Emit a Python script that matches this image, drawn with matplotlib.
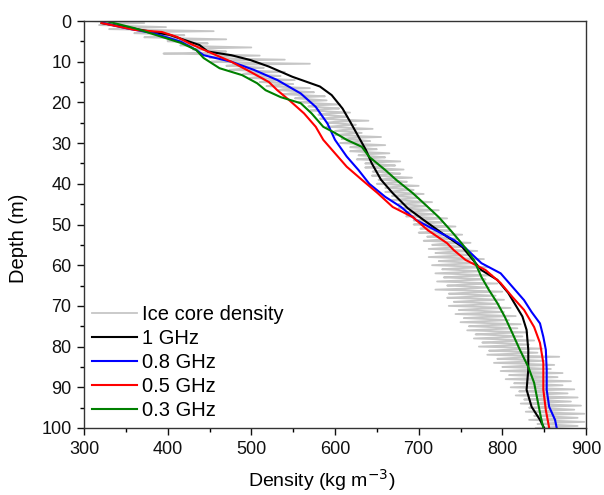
import matplotlib
matplotlib.use("Agg")
import matplotlib.pyplot as plt

plt.rcParams['font.family'] = ['Liberation Sans', 'DejaVu Sans']

# Ice core density: four readings per metre
# (left spike, centre, right spike, centre), 0.25 m apart
ice_quads = [
    (305, 340, 372, 330), (318, 360, 398, 345), (330, 395, 455, 370), (360, 395, 420, 385),
    (372, 415, 470, 400), (400, 430, 448, 420), (415, 450, 500, 440), (430, 455, 470, 448),
    (395, 465, 510, 458), (450, 478, 540, 470), (452, 490, 570, 480), (470, 495, 515, 488),
    (474, 505, 540, 498), (490, 515, 535, 508), (498, 525, 552, 518), (510, 535, 550, 528),
    (518, 545, 570, 538), (532, 555, 575, 548), (538, 565, 588, 558), (552, 572, 590, 566),
    (556, 582, 606, 575), (568, 588, 605, 582), (570, 595, 618, 590), (580, 600, 615, 595),
    (582, 608, 640, 600), (590, 610, 625, 605), (590, 616, 645, 610), (600, 618, 632, 614),
    (600, 625, 655, 618), (608, 628, 642, 622), (606, 632, 660, 626), (618, 636, 650, 630),
    (618, 642, 665, 636), (628, 646, 660, 640), (626, 652, 678, 646), (636, 656, 672, 650),
    (636, 660, 682, 654), (645, 664, 678, 658), (644, 668, 692, 662), (652, 672, 686, 666),
    (650, 676, 700, 670), (660, 680, 694, 674), (660, 684, 706, 678), (668, 688, 700, 682),
    (668, 692, 716, 686), (676, 696, 710, 690), (676, 700, 724, 694), (684, 704, 718, 698),
    (685, 709, 734, 703), (694, 713, 728, 707), (694, 718, 744, 712), (702, 722, 738, 716),
    (700, 726, 752, 720), (710, 730, 746, 724), (706, 734, 762, 728), (716, 738, 754, 732),
    (712, 741, 770, 735), (720, 744, 762, 738), (712, 747, 778, 741), (724, 749, 768, 743),
    (716, 752, 784, 746), (728, 754, 774, 748), (720, 756, 788, 750), (730, 758, 780, 752),
    (722, 760, 794, 754), (734, 762, 784, 756), (720, 765, 800, 758), (736, 767, 792, 761),
    (734, 770, 802, 764), (742, 772, 796, 766), (736, 775, 810, 769), (748, 778, 802, 772),
    (744, 781, 816, 775), (754, 784, 808, 778), (750, 788, 822, 782), (760, 792, 818, 786),
    (758, 796, 830, 790), (768, 800, 824, 794), (766, 804, 838, 798), (776, 808, 832, 802),
    (772, 813, 848, 807), (784, 817, 842, 811), (782, 821, 868, 815), (794, 825, 850, 819),
    (790, 829, 862, 823), (800, 833, 858, 827), (798, 837, 872, 831), (808, 840, 866, 834),
    (804, 843, 882, 837), (814, 846, 872, 840), (810, 849, 886, 843), (820, 852, 878, 846),
    (816, 855, 890, 849), (826, 857, 882, 851), (822, 860, 894, 854), (832, 862, 886, 856),
    (828, 864, 898, 858), (838, 866, 890, 860), (832, 867, 898, 861), (842, 868, 890, 862),
]
ice_last = 840
ice_density = [v for q in ice_quads for v in q] + [ice_last]
ice_depth = [i * 0.25 for i in range(len(ice_density))]

ghz1_density = [321, 402, 438, 448, 476, 499, 521, 549, 582, 596, 609, 618, 628,
                637, 644, 655, 669, 687, 706, 729, 752, 775, 794, 807, 817, 824,
                829, 831, 831, 829, 835, 845, 850]
ghz1_depth = [0.5, 3.4, 5.9, 7.5, 8.4, 9.6, 11.2, 13.7, 16.1, 18.2, 21.5, 24.7,
              28.4, 31.7, 35.0, 39.0, 42.3, 46.0, 48.9, 52.3, 55.5, 61.2, 63.6,
              66.8, 70.2, 72.6, 75.9, 80.8, 85.7, 90.6, 94.8, 98.0, 100.0]

ghz08_density = [323, 351, 383, 416, 434, 443, 476, 503, 531, 559, 577, 591, 600,
                 614, 628, 641, 660, 679, 697, 720, 742, 756, 775, 798, 812, 826,
                 835, 845, 849, 852, 853, 853, 856, 863, 865]
ghz08_depth = [0.5, 1.8, 3.0, 5.1, 7.1, 8.4, 10.0, 12.0, 14.5, 17.8, 21.1, 25.2,
               29.2, 33.3, 36.6, 40.0, 43.2, 45.7, 48.9, 51.4, 53.8, 55.8, 59.5,
               62.0, 65.3, 68.6, 71.5, 74.3, 77.6, 80.8, 85.7, 90.6, 94.8, 98.0,
               100.0]

ghz05_density = [321, 361, 393, 411, 425, 438, 458, 476, 499, 521, 531, 545, 563,
                 577, 586, 600, 614, 632, 651, 669, 693, 711, 734, 742, 756, 780,
                 798, 812, 826, 838, 845, 849, 849, 852, 856]
ghz05_depth = [0.5, 2.2, 2.7, 3.9, 5.4, 6.6, 8.4, 10.0, 12.5, 15.0, 17.0, 19.4,
               22.7, 26.0, 29.2, 32.5, 35.8, 39.0, 42.3, 45.7, 48.2, 51.4, 54.6,
               56.3, 58.7, 61.2, 64.4, 67.8, 71.0, 75.2, 79.1, 84.0, 90.6, 95.6,
               100.0]

ghz03_density = [326, 361, 393, 416, 434, 443, 462, 489, 507, 517, 535, 559, 572,
                 586, 600, 614, 632, 641, 660, 673, 693, 711, 724, 738, 748, 756,
                 766, 775, 784, 794, 803, 812, 821, 831, 838, 842, 846, 849]
ghz03_depth = [0.0, 1.8, 3.9, 5.4, 7.1, 9.1, 11.6, 13.3, 15.3, 17.0, 18.7, 20.2,
               22.7, 26.0, 27.5, 29.2, 30.9, 33.4, 36.6, 39.0, 42.3, 45.7, 48.2,
               51.4, 53.8, 55.8, 58.7, 62.9, 66.1, 69.3, 72.7, 76.7, 80.8, 85.0,
               88.9, 93.1, 97.3, 100.0]

x_ticks = [300, 400, 500, 600, 700, 800, 900]
x_minor = [350, 450, 550, 650, 750, 850]
y_ticks = [0, 10, 20, 30, 40, 50, 60, 70, 80, 90, 100]
y_minor = [5, 15, 25, 35, 45, 55, 65, 75, 85, 95]

fig = plt.figure(figsize=(6.04, 4.95), dpi=100)
ax = fig.add_axes([84 / 604, 1 - 428 / 495, 502 / 604, 407 / 495])

ax.plot(ice_density, ice_depth, color='#c6c6c6', lw=1.3, label='Ice core density')
ax.plot(ghz1_density, ghz1_depth, color='black', lw=1.5, label='1 GHz')
ax.plot(ghz08_density, ghz08_depth, color='#0000ff', lw=1.5, label='0.8 GHz')
ax.plot(ghz05_density, ghz05_depth, color='#ff0000', lw=1.5, label='0.5 GHz')
ax.plot(ghz03_density, ghz03_depth, color='#008000', lw=1.5, label='0.3 GHz')

ax.set_xlim(300, 900)
ax.set_ylim(100, 0)
ax.set_xticks(x_ticks)
ax.set_yticks(y_ticks)
ax.set_xticks(x_minor, minor=True)
ax.set_yticks(y_minor, minor=True)
ax.tick_params(axis='both', which='major', direction='out', length=5, width=1,
               labelsize=13, colors='#111111', pad=4)
ax.tick_params(axis='both', which='minor', direction='out', length=3, width=1)
ax.tick_params(top=False, right=False)
for s in ax.spines.values():
    s.set_color('#333333')
    s.set_linewidth(1.0)

ax.set_xlabel('Density (kg m$^{-3}$)', fontsize=14)
ax.set_ylabel('Depth (m)', fontsize=14.5)
ax.xaxis.set_label_coords((322 - 84) / 502, -(467 - 428) / 407)
ax.yaxis.set_label_coords(-(84 - 28) / 502, 1 - (238 - 21) / 407)

leg = ax.legend(loc='lower left', frameon=False, fontsize=14.5, handlelength=2.25,
                handletextpad=0.25, labelspacing=0.25, borderaxespad=0.2,
                borderpad=0.2, bbox_to_anchor=(0.0, 0.0))

fig.savefig('out.png', dpi=100)
